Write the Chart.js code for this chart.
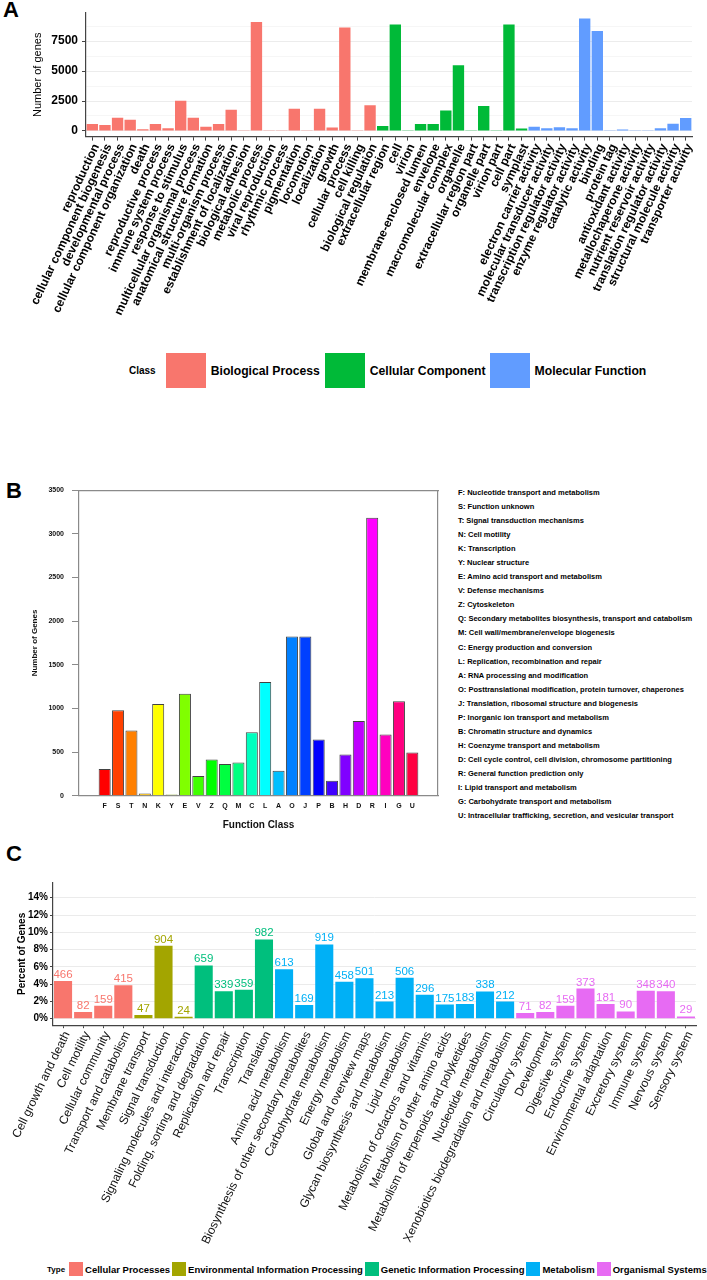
<!DOCTYPE html>
<html>
<head>
<meta charset="utf-8">
<title>GO / COG / KEGG annotation</title>
<script src="https://cdn.jsdelivr.net/npm/chart.js@4.4.1/dist/chart.umd.min.js"></script>
<style>
  html, body { margin:0; padding:0; background:#ffffff; }
  body { position:relative; width:707px; height:1280px; overflow:hidden; font-family:"Liberation Sans", Arial, sans-serif; color:#000; }
  canvas { position:absolute; display:block; }
  .panel-letter { position:absolute; font-weight:bold; font-size:22px; line-height:22px; }
  .legend { position:absolute; display:flex; align-items:center; white-space:nowrap; font-weight:bold; }
  .legend .sw { display:inline-block; flex:none; }
  #cogList { position:absolute; left:458px; top:486px; font-size:7.5px; font-weight:bold; line-height:14.04px; white-space:nowrap; color:#000; }
</style>
</head>
<body>
<div class="panel-letter" style="left:3px;top:-1px;">A</div>
<canvas id="chartA" width="707" height="320" style="left:0;top:0;"></canvas>
<div id="legendA" class="legend" style="left:129px;top:353px;height:35px;"></div>

<div class="panel-letter" style="left:6px;top:480px;">B</div>
<canvas id="chartB" width="445" height="360" style="left:0;top:478px;"></canvas>
<div id="cogList"></div>

<div class="panel-letter" style="left:6px;top:843px;">C</div>
<canvas id="chartC" width="707" height="385" style="left:0;top:870px;"></canvas>
<div id="legendC" class="legend" style="left:47px;top:1262px;height:14px;"></div>

<script>
// ================= Panel A : GO classification =================
const goTerms = [
  'reproduction','cellular component biogenesis','developmental process','cellular component organization',
  'death','reproductive process','immune system process','response to stimulus',
  'multicellular organismal process','anatomical structure formation','multi-organism process','establishment of localization',
  'biological adhesion','metabolic process','viral reproduction','rhythmic process',
  'pigmentation','locomotion','localization','growth',
  'cellular process','cell killing','biological regulation',
  'extracellular region','cell','virion','membrane-enclosed lumen',
  'envelope','macromolecular complex','organelle','extracellular region part',
  'organelle part','virion part','cell part','symplast',
  'electron carrier activity','molecular transducer activity','transcription regulator activity','enzyme regulator activity',
  'catalytic activity','binding','protein tag','antioxidant activity',
  'metallochaperone activity','nutrient reservoir activity','translation regulator activity','structural molecule activity',
  'transporter activity'
];
const goCounts = [
  580, 500, 1110, 945,
  150, 580, 220, 2530,
  1110, 360, 580, 1780,
  10, 9090, 10, 10,
  1860, 10, 1860, 280,
  8620, 10, 2140,
  420, 8870, 10, 580,
  580, 1700, 5480, 10,
  2085, 10, 8870, 200,
  360, 220, 305, 220,
  9370, 8340, 10, 120,
  10, 10, 220, 610,
  1085
];
const goClassOf = [
  'BP','BP','BP','BP','BP','BP','BP','BP','BP','BP','BP','BP',
  'BP','BP','BP','BP','BP','BP','BP','BP','BP','BP','BP',
  'CC','CC','CC','CC','CC','CC','CC','CC','CC','CC','CC','CC',
  'MF','MF','MF','MF','MF','MF','MF','MF','MF','MF','MF','MF','MF'
];
const goClassCodes  = ['BP','CC','MF'];
const goClassNames  = ['Biological Process','Cellular Component','Molecular Function'];
const goClassColors = ['#F8766D','#00BA38','#619CFF'];
const goYGrid = [0, 1250, 2500, 3750, 5000, 6250, 7500, 8750];
const goYLabelled = [0, 2500, 5000, 7500];

// ================= Panel B : COG function classification =================
const cogLetters = ['F','S','T','N','K','Y','E','V','Z','Q','M','C','L','A','O','J','P','B','H','D','R','I','G','U'];
const cogCounts  = [305, 980, 746, 26, 1051, 15, 1168, 226, 414, 362, 380, 727, 1304, 286, 1824, 1824, 644, 170, 471, 855, 3184, 701, 1081, 494];
const cogColors  = ['#FF0000','#FF4000','#FF8000','#FFBF00','#FFFF00','#BFFF00','#80FF00','#40FF00','#00FF00','#00FF40','#00FF80','#00FFBF',
                    '#00FFFF','#00BFFF','#0080FF','#0040FF','#0000FF','#4000FF','#8000FF','#BF00FF','#FF00FF','#FF00BF','#FF0080','#FF0040'];
const cogDescriptions = [
  'Nucleotide transport and metabolism',
  'Function unknown',
  'Signal transduction mechanisms',
  'Cell motility',
  'Transcription',
  'Nuclear structure',
  'Amino acid transport and metabolism',
  'Defense mechanisms',
  'Cytoskeleton',
  'Secondary metabolites biosynthesis, transport and catabolism',
  'Cell wall/membrane/envelope biogenesis',
  'Energy production and conversion',
  'Replication, recombination and repair',
  'RNA processing and modification',
  'Posttranslational modification, protein turnover, chaperones',
  'Translation, ribosomal structure and biogenesis',
  'Inorganic ion transport and metabolism',
  'Chromatin structure and dynamics',
  'Coenzyme transport and metabolism',
  'Cell cycle control, cell division, chromosome partitioning',
  'General function prediction only',
  'Lipid transport and metabolism',
  'Carbohydrate transport and metabolism',
  'Intracellular trafficking, secretion, and vesicular transport'
];
const cogYTicks = [0, 500, 1000, 1500, 2000, 2500, 3000, 3500];

// ================= Panel C : KEGG pathway classification =================
const keggPathways = [
  'Cell growth and death','Cell motility','Cellular community','Transport and catabolism',
  'Membrane transport','Signal transduction','Signaling molecules and interaction',
  'Folding, sorting and degradation','Replication and repair','Transcription','Translation',
  'Amino acid metabolism','Biosynthesis of other secondary metabolites','Carbohydrate metabolism','Energy metabolism',
  'Global and overview maps','Glycan biosynthesis and metabolism','Lipid metabolism','Metabolism of cofactors and vitamins',
  'Metabolism of other amino acids','Metabolism of terpenoids and polyketides','Nucleotide metabolism','Xenobiotics biodegradation and metabolism',
  'Circulatory system','Development','Digestive system','Endocrine system','Environmental adaptation',
  'Excretory system','Immune system','Nervous system','Sensory system'
];
const keggCounts = [
  466, 82, 159, 415,
  47, 904, 24,
  659, 339, 359, 982,
  613, 169, 919, 458, 501, 213, 506, 296, 175, 183, 338, 212,
  71, 82, 159, 373, 181, 90, 348, 340, 29
];
const keggPercent = [
  4.36, 0.77, 1.49, 3.88,
  0.44, 8.45, 0.22,
  6.16, 3.17, 3.36, 9.18,
  5.73, 1.58, 8.60, 4.28, 4.69, 1.99, 4.73, 2.77, 1.64, 1.71, 3.16, 1.98,
  0.66, 0.77, 1.49, 3.49, 1.69, 0.84, 3.25, 3.18, 0.27
];
const keggTypeOf = [
  'CP','CP','CP','CP',
  'EIP','EIP','EIP',
  'GIP','GIP','GIP','GIP',
  'M','M','M','M','M','M','M','M','M','M','M','M',
  'OS','OS','OS','OS','OS','OS','OS','OS','OS'
];
const keggTypeCodes  = ['CP','EIP','GIP','M','OS'];
const keggTypeNames  = ['Cellular Processes','Environmental Information Processing','Genetic Information Processing','Metabolism','Organismal Systems'];
const keggTypeColors = ['#F8766D','#A3A500','#00BF7D','#00B0F6','#E76BF3'];
const keggYGrid = [0,1,2,3,4,5,6,7,8,9,10,11,12,13,14,15];
const keggYLabelled = [0,2,4,6,8,10,12,14];

// ================= shared setup =================
const FONT = '"Liberation Sans", Arial, Helvetica, sans-serif';
Chart.defaults.font.family = FONT;
Chart.defaults.color = '#000';

const valueLabelPlugin = {
  id: 'valueLabels',
  afterDatasetsDraw(chart, args, opts) {
    if (!opts || !opts.labels) return;
    const ctx = chart.ctx;
    const meta = chart.getDatasetMeta(0);
    ctx.save();
    ctx.font = opts.font;
    ctx.textAlign = 'center';
    ctx.textBaseline = 'alphabetic';
    meta.data.forEach((bar, i) => {
      ctx.fillStyle = opts.colors[i];
      ctx.fillText(String(opts.labels[i]), bar.x, bar.y - opts.gap);
    });
    ctx.restore();
  }
};

// ---------- Chart A ----------
const goColors = goClassOf.map(c => goClassColors[goClassCodes.indexOf(c)]);
new Chart(document.getElementById('chartA'), {
  type: 'bar',
  data: {
    labels: goTerms,
    datasets: [{ data: goCounts, backgroundColor: goColors, borderWidth: 0, barPercentage: 0.9, categoryPercentage: 1.0 }]
  },
  options: {
    responsive: false, animation: false, events: [],
    layout: { padding: { top: 13, right: 15, left: 0, bottom: 0 } },
    plugins: { legend: { display: false }, tooltip: { enabled: false } },
    scales: {
      x: {
        offset: true,
        grid: { display: true, offset: false, drawOnChartArea: false, drawTicks: true, tickLength: 4, color: '#444', lineWidth: 1 },
        border: { display: true, color: '#444', width: 1.2 },
        ticks: { autoSkip: false, minRotation: 65, maxRotation: 65, padding: 1, labelOffset: 4, color: '#000',
                 font: { family: FONT, size: 12, weight: 'bold' } },
        afterFit: s => { s.height = 183.4; }
      },
      y: {
        min: -468.5, max: 9838.5,
        afterBuildTicks: s => { s.ticks = goYGrid.map(v => ({ value: v })); },
        grid: {
          color: c => (c.tick && goYLabelled.includes(c.tick.value)) ? '#ECECEC' : '#F6F6F6',
          tickColor: c => (c.tick && goYLabelled.includes(c.tick.value)) ? '#444' : 'rgba(0,0,0,0)',
          drawTicks: true, tickLength: 4, lineWidth: 1
        },
        border: { display: true, color: '#444', width: 1.2 },
        ticks: { padding: 4, color: '#000', font: { family: FONT, size: 12, weight: 'bold' },
                 callback: v => goYLabelled.includes(v) ? String(v) : '' },
        title: { display: true, text: 'Number of genes', color: '#000',
                 font: { family: FONT, size: 11, weight: 'normal' }, padding: { top: 31, bottom: 0 } },
        afterFit: s => { s.width = 86; }
      }
    }
  }
});

// legend A (HTML)
(function () {
  const box = document.getElementById('legendA');
  const t = document.createElement('span');
  t.textContent = 'Class';
  t.style.cssText = 'font-size:10px;margin-right:10px;';
  box.appendChild(t);
  goClassNames.forEach((name, i) => {
    const sw = document.createElement('span');
    sw.className = 'sw';
    sw.style.cssText = 'width:40px;height:35px;background:' + goClassColors[i] + ';margin-right:5px;';
    const tx = document.createElement('span');
    tx.textContent = name;
    tx.style.cssText = 'font-size:12.2px;margin-right:' + (i === 1 ? 4 : 5) + 'px;';
    box.appendChild(sw); box.appendChild(tx);
  });
})();

// ---------- Chart B ----------
const cogPoints = cogCounts.map((v, i) => ({ x: i, y: v }));
new Chart(document.getElementById('chartB'), {
  type: 'bar',
  data: {
    datasets: [{ data: cogPoints, backgroundColor: cogColors, borderColor: 'rgba(45,45,45,0.9)', borderWidth: 1,
                 barPercentage: 0.9, categoryPercentage: 1.0 }]
  },
  options: {
    responsive: false, animation: false, events: [],
    layout: { padding: { top: 8, right: 7, left: 0, bottom: 0 } },
    plugins: { legend: { display: false }, tooltip: { enabled: false } },
    scales: {
      x: {
        type: 'linear', min: -1.361, max: 24.361,
        afterBuildTicks: s => { s.ticks = cogLetters.map((l, i) => ({ value: i })); },
        grid: { display: true, drawOnChartArea: false, drawTicks: false },
        border: { display: true, color: '#8a8a8a', width: 1.2 },
        ticks: { autoSkip: false, maxRotation: 0, minRotation: 0, padding: 6, color: '#111',
                 font: { family: FONT, size: 7, weight: 'bold' },
                 callback: v => cogLetters[v] },
        title: { display: true, text: 'Function Class', color: '#111',
                 font: { family: FONT, size: 10, weight: 'bold' }, padding: { top: 0, bottom: 7 } },
        afterFit: s => { s.height = 42.3; }
      },
      x2: {
        type: 'linear', position: 'top', display: true,
        grid: { display: true, drawOnChartArea: false, drawTicks: false },
        border: { display: true, color: '#8a8a8a', width: 1.2 },
        ticks: { display: false }
      },
      y: {
        min: 0, max: 3500,
        afterBuildTicks: s => { s.ticks = cogYTicks.map(v => ({ value: v })); },
        ticks: { padding: 8, color: '#111', font: { family: FONT, size: 7, weight: 'bold' },
                 callback: v => String(v) },
        grid: { display: true, drawOnChartArea: false, drawTicks: true, tickLength: 7, color: '#8a8a8a' },
        border: { display: true, color: '#8a8a8a', width: 1.2 },
        title: { display: true, text: 'Number of Genes', color: '#111',
                 font: { family: FONT, size: 8, weight: 'bold' }, padding: { top: 30, bottom: 0 } },
        afterFit: s => { s.width = 79; }
      },
      y2: {
        type: 'linear', position: 'right', display: true,
        grid: { display: true, drawOnChartArea: false, drawTicks: false },
        border: { display: true, color: '#8a8a8a', width: 1.2 },
        ticks: { display: false }
      }
    }
  }
});

// COG category list (HTML)
(function () {
  const list = document.getElementById('cogList');
  cogLetters.forEach((l, i) => {
    const d = document.createElement('div');
    d.textContent = l + ': ' + cogDescriptions[i];
    list.appendChild(d);
  });
})();

// ---------- Chart C ----------
const keggColors = keggTypeOf.map(t => keggTypeColors[keggTypeCodes.indexOf(t)]);
new Chart(document.getElementById('chartC'), {
  type: 'bar',
  data: {
    labels: keggPathways,
    datasets: [{ data: keggPercent, backgroundColor: keggColors, borderWidth: 0, barPercentage: 0.9, categoryPercentage: 1.0 }]
  },
  options: {
    responsive: false, animation: false, events: [],
    layout: { padding: { top: 12.6, right: 11, left: 0, bottom: 0 } },
    plugins: {
      legend: { display: false }, tooltip: { enabled: false },
      valueLabels: { labels: keggCounts, colors: keggColors, font: '11.5px ' + FONT, gap: 3 }
    },
    scales: {
      x: {
        offset: true,
        grid: { display: true, offset: false, drawOnChartArea: false, drawTicks: true, tickLength: 3, color: '#444' },
        border: { display: true, color: '#444', width: 1.2 },
        ticks: { autoSkip: false, minRotation: 64, maxRotation: 64, padding: 1, labelOffset: 4, color: '#111',
                 font: { family: FONT, size: 12, weight: 'normal' } },
        afterFit: s => { s.height = 229.8; }
      },
      y: {
        min: -0.75, max: 15.75,
        afterBuildTicks: s => { s.ticks = keggYGrid.map(v => ({ value: v })); },
        grid: {
          color: c => (c.tick && keggYLabelled.includes(c.tick.value)) ? '#EBEBEB' : '#F3F3F3',
          tickColor: c => (c.tick && keggYLabelled.includes(c.tick.value)) ? '#444' : 'rgba(0,0,0,0)',
          drawTicks: true, tickLength: 3
        },
        border: { display: true, color: '#444', width: 1.2 },
        ticks: { padding: 2, color: '#000', font: { family: FONT, size: 10, weight: 'bold' },
                 callback: v => keggYLabelled.includes(v) ? v + '%' : '' },
        title: { display: true, text: 'Percent of Genes', color: '#000',
                 font: { family: FONT, size: 10, weight: 'bold' }, padding: { top: 16, bottom: 0 } },
        afterFit: s => { s.width = 53; }
      }
    }
  },
  plugins: [valueLabelPlugin]
});

// legend C (HTML)
(function () {
  const box = document.getElementById('legendC');
  const t = document.createElement('span');
  t.textContent = 'Type';
  t.style.cssText = 'font-size:8px;margin-right:4px;';
  box.appendChild(t);
  keggTypeNames.forEach((name, i) => {
    const sw = document.createElement('span');
    sw.className = 'sw';
    sw.style.cssText = 'width:14px;height:14px;background:' + keggTypeColors[i] + ';margin-right:2px;';
    const tx = document.createElement('span');
    tx.textContent = name;
    tx.style.cssText = 'font-size:9.5px;margin-right:2px;';
    box.appendChild(sw); box.appendChild(tx);
  });
})();
</script>
</body>
</html>
